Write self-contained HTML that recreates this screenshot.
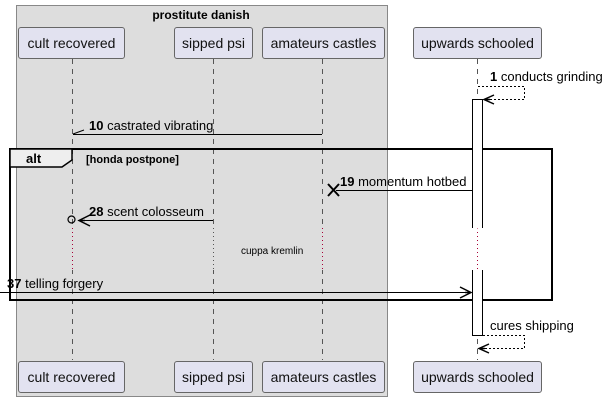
<!DOCTYPE html>
<html><head><meta charset="utf-8"><style>
html,body{margin:0;padding:0;background:#fff;}
svg{display:block;font-family:"Liberation Sans",sans-serif;}
</style></head><body>
<svg width="608" height="401" viewBox="0 0 608 401" xmlns="http://www.w3.org/2000/svg">
<rect x="16.5" y="5.5" width="371" height="391" fill="#dddddd" stroke="#888" stroke-width="1"/>
<text x="201" y="19" font-size="12" font-weight="bold" text-anchor="middle">prostitute danish</text>
<g stroke="#555" stroke-width="1" stroke-dasharray="5,5">
<line x1="72.5" y1="59" x2="72.5" y2="360"/>
<line x1="213.5" y1="59" x2="213.5" y2="360"/>
<line x1="322.5" y1="59" x2="322.5" y2="360"/>
<line x1="477.5" y1="59" x2="477.5" y2="360"/>
</g>
<g fill="#e2e2f0" stroke="#666" stroke-width="1">
<rect x="18.5" y="27.5" width="106" height="31" rx="2.5"/>
<rect x="174.5" y="27.5" width="78" height="31" rx="2.5"/>
<rect x="262.5" y="27.5" width="122" height="31" rx="2.5"/>
<rect x="413.5" y="27.5" width="128" height="31" rx="2.5"/>
<rect x="18.5" y="361.5" width="106" height="31" rx="2.5"/>
<rect x="174.5" y="361.5" width="78" height="31" rx="2.5"/>
<rect x="262.5" y="361.5" width="122" height="31" rx="2.5"/>
<rect x="413.5" y="361.5" width="128" height="31" rx="2.5"/>
</g>
<g font-size="14" fill="#111" text-anchor="middle">
<text x="71.5" y="48">cult recovered</text>
<text x="213.5" y="48">sipped psi</text>
<text x="323.5" y="48">amateurs castles</text>
<text x="477.5" y="48">upwards schooled</text>
<text x="71.5" y="382">cult recovered</text>
<text x="213.5" y="382">sipped psi</text>
<text x="323.5" y="382">amateurs castles</text>
<text x="477.5" y="382">upwards schooled</text>
</g>
<g stroke="#a80036" stroke-width="1" stroke-dasharray="1,3">
<line x1="72.5" y1="228" x2="72.5" y2="270" stroke="#ddd" stroke-dasharray="none"/>
<line x1="72.5" y1="228" x2="72.5" y2="270"/>
<line x1="213.5" y1="228" x2="213.5" y2="270" stroke="#ddd" stroke-dasharray="none"/>
<line x1="213.5" y1="228" x2="213.5" y2="270" stroke="#555"/>
<line x1="322.5" y1="228" x2="322.5" y2="270" stroke="#ddd" stroke-dasharray="none"/>
<line x1="322.5" y1="228" x2="322.5" y2="270"/>
<line x1="477.5" y1="228" x2="477.5" y2="270" stroke="#fff" stroke-dasharray="none"/>
<line x1="477.5" y1="228" x2="477.5" y2="270"/>
</g>
<rect x="10" y="149" width="542" height="151" fill="none" stroke="#000" stroke-width="2"/>
<path d="M10 149 H72 V160 L62 167 H10 Z" fill="#eee" stroke="#000" stroke-width="1.5"/>
<text x="26" y="163" font-size="13" font-weight="bold">alt</text>
<text x="86" y="163" font-size="11" font-weight="bold">[honda postpone]</text>
<!-- activation (open at gap) -->
<rect x="472.5" y="99.5" width="10" height="129" fill="#fff" stroke="none"/>
<path d="M472.5 228 V99.5 H482.5 V228" fill="none" stroke="#000"/>
<rect x="472.5" y="270" width="10" height="65.5" fill="#fff" stroke="none"/>
<path d="M472.5 270 V335.5 H482.5 V270" fill="none" stroke="#000"/>
<path d="M478 86.5 H524.5 V99.5 H484" fill="none" stroke="#000" stroke-dasharray="2,2"/>
<path d="M494 95 L484 99.5 L494 104 M484 99.5 L490 99.5" fill="none" stroke="#000" stroke-width="1.5"/>
<text x="490" y="81" font-size="13"><tspan font-weight="bold">1</tspan> conducts grinding</text>
<line x1="322" y1="134.5" x2="73" y2="134.5" stroke="#000"/>
<line x1="73" y1="134" x2="84" y2="130" stroke="#000"/>
<text x="89" y="130" font-size="13"><tspan font-weight="bold">10</tspan> castrated vibrating</text>
<line x1="472" y1="190.5" x2="336" y2="190.5" stroke="#000"/>
<path d="M328 184 L339 196 M339 184 L328 196" stroke="#000" stroke-width="2"/>
<text x="340" y="186" font-size="13"><tspan font-weight="bold">19</tspan> momentum hotbed</text>
<line x1="213" y1="220.5" x2="78" y2="220.5" stroke="#000"/>
<path d="M90 215 L79 220.5 L90 226 M79 220.5 L85 220.5" fill="none" stroke="#000" stroke-width="1.5"/>
<circle cx="71.5" cy="219.5" r="3.5" fill="none" stroke="#000" stroke-width="1.2"/>
<text x="89" y="216" font-size="13"><tspan font-weight="bold">28</tspan> scent colosseum</text>
<text x="241" y="254" font-size="10">cuppa kremlin</text>
<line x1="0" y1="292.5" x2="471" y2="292.5" stroke="#000"/>
<path d="M460 287 L471 292.5 L460 298 M471 292.5 L465 292.5" fill="none" stroke="#000" stroke-width="1.5"/>
<text x="7" y="288" font-size="13"><tspan font-weight="bold">37</tspan> telling forgery</text>
<path d="M483 335.5 H524.5 V348.5 H479" fill="none" stroke="#000" stroke-dasharray="2,2"/>
<path d="M489 344 L479 348.5 L489 353 M479 348.5 L485 348.5" fill="none" stroke="#000" stroke-width="1.5"/>
<text x="490" y="330" font-size="13">cures shipping</text>
</svg>
</body></html>
